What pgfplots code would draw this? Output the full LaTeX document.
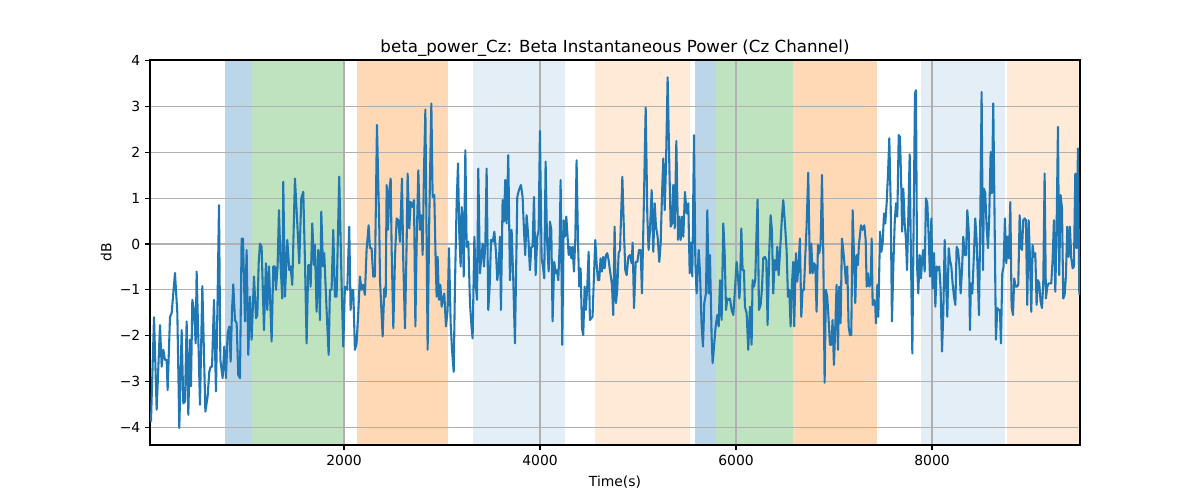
\documentclass[border=0pt]{standalone}
\usepackage{pgfplots}
\pgfplotsset{compat=1.18}
\usepackage{fontspec}
\setmainfont{DejaVu Sans}
\definecolor{tabblue}{RGB}{31,119,180}
\definecolor{taborange}{RGB}{255,127,14}
\definecolor{tabgreen}{RGB}{44,160,44}
\definecolor{gridgray}{RGB}{176,176,176}
\begin{document}
\begin{tikzpicture}
\begin{axis}[
  set layers,
  clip mode=individual,
  scale only axis,
  width=669.6pt, height=277.2pt,
  at={(0,0)}, anchor=south west,
  xmin=20, xmax=9510, ymin=-4.39, ymax=4.02,
  xtick={2000,4000,6000,8000},
  ytick={-4,-3,-2,-1,0,1,2,3,4},
  yticklabels={−4,−3,−2,−1,0,1,2,3,4},
  scaled x ticks=false,
  /pgf/number format/assume math mode=true,
  /pgf/number format/set thousands separator={},
  tick label style={font=\fontsize{10}{12}\selectfont, text=black},
  tick align=outside, major tick length=3.5pt,
  tick style={black, line width=0.8pt},
  xtick pos=bottom, ytick pos=left,
  grid=major,
  major grid style={gridgray, line width=0.8pt},
  axis line style={black, line width=0.8pt},
  title={beta\_power\_Cz: Beta Instantaneous Power (Cz Channel)},
  title style={font=\fontsize{12}{14}\selectfont, yshift=-7pt},
  xlabel={Time(s)}, ylabel={dB},
  label style={font=\fontsize{10}{12}\selectfont},
  xlabel style={yshift=-1pt},
  ylabel style={yshift=-1pt},
]
% spans
\addplot[on layer=axis background, draw=none, fill=tabblue, fill opacity=0.3] coordinates {(788,-4.39) (788,4.02) (1058,4.02) (1058,-4.39)};
\addplot[on layer=axis background, draw=none, fill=tabgreen, fill opacity=0.3] coordinates {(1058,-4.39) (1058,4.02) (2000,4.02) (2000,-4.39)};
\addplot[on layer=axis background, draw=none, fill=taborange, fill opacity=0.3] coordinates {(2132,-4.39) (2132,4.02) (3058,4.02) (3058,-4.39)};
\addplot[on layer=axis background, draw=none, fill=tabblue, fill opacity=0.12] coordinates {(3316,-4.39) (3316,4.02) (4255,4.02) (4255,-4.39)};
\addplot[on layer=axis background, draw=none, fill=taborange, fill opacity=0.16] coordinates {(4561,-4.39) (4561,4.02) (5530,4.02) (5530,-4.39)};
\addplot[on layer=axis background, draw=none, fill=tabblue, fill opacity=0.3] coordinates {(5584,-4.39) (5584,4.02) (5792,4.02) (5792,-4.39)};
\addplot[on layer=axis background, draw=none, fill=tabgreen, fill opacity=0.3] coordinates {(5792,-4.39) (5792,4.02) (6584,4.02) (6584,-4.39)};
\addplot[on layer=axis background, draw=none, fill=taborange, fill opacity=0.3] coordinates {(6584,-4.39) (6584,4.02) (7435,4.02) (7435,-4.39)};
\addplot[on layer=axis background, draw=none, fill=tabblue, fill opacity=0.12] coordinates {(7887,-4.39) (7887,4.02) (8748,4.02) (8748,-4.39)};
\addplot[on layer=axis background, draw=none, fill=taborange, fill opacity=0.16] coordinates {(8765,-4.39) (8765,4.02) (9510,4.02) (9510,-4.39)};
% signal
\addplot[tabblue, line width=1.5pt, line join=round] table {
x y
30 -3.88
61 -1.60
88 -3.62
122 -1.77
139 -2.68
156 -2.31
173 -2.53
190 -2.53
200 -3.19
224 -1.59
241 -1.51
275 -0.63
299 -1.51
319 -4.02
343 -1.88
360 -3.48
377 -3.44
394 -1.69
411 -3.73
428 -2.09
438 -3.11
452 -1.22
469 -1.44
486 -2.17
496 -0.60
530 -3.51
554 -0.92
585 -3.66
608 -3.33
625 -2.79
639 -2.68
653 -2.68
673 -1.22
693 -3.22
710 -1.15
724 0.85
738 -2.53
761 -2.93
778 -2.24
795 -2.93
812 -1.95
829 -1.80
843 -2.57
857 -1.44
870 -0.88
887 -1.66
904 -1.73
921 -2.86
938 -2.93
955 0.12
969 0.12
989 -1.69
1006 -0.13
1023 -2.42
1040 -1.15
1057 -2.09
1081 -0.71
1102 -1.62
1115 -1.55
1129 -0.42
1142 0.01
1159 -0.06
1183 -1.88
1203 -0.42
1217 -1.44
1234 -0.49
1261 -2.13
1278 -0.49
1295 -0.49
1305 -1.00
1322 -0.49
1336 0.74
1353 -0.49
1370 -1.19
1380 1.36
1397 -1.15
1421 0.09
1441 -0.57
1455 -0.49
1472 -0.89
1499 1.43
1523 0.45
1543 -0.42
1564 1.00
1584 1.14
1601 -0.35
1618 -2.17
1635 -0.46
1652 -0.46
1659 -0.93
1676 0.45
1693 -0.46
1703 -0.02
1720 -1.48
1737 -0.13
1754 -1.66
1768 0.71
1785 -0.49
1798 -0.20
1822 -1.44
1843 -2.42
1856 -1.00
1873 -1.00
1890 0.31
1907 -1.15
1924 -1.15
1951 1.47
1975 -0.86
1992 -2.24
2009 -0.93
2033 -1.00
2053 0.38
2067 -1.44
2081 -1.00
2094 -1.00
2111 -2.31
2128 -2.17
2145 -1.51
2162 -0.71
2179 -1.00
2196 -0.89
2213 -1.11
2230 -0.13
2251 0.41
2264 -0.09
2281 -0.09
2298 -0.71
2315 -0.71
2336 2.60
2360 0.31
2367 -0.79
2394 -2.02
2411 -0.97
2425 -1.15
2435 1.29
2449 0.31
2462 1.18
2476 1.43
2486 -0.13
2503 -1.84
2520 -0.28
2537 0.56
2554 0.52
2571 0.05
2591 1.43
2605 -0.42
2622 -1.84
2639 0.05
2649 1.54
2666 0.34
2680 0.92
2697 0.81
2714 0.96
2728 -1.80
2741 0.01
2758 1.61
2775 0.31
2789 0.63
2802 -0.24
2816 1.61
2830 2.94
2843 -0.02
2853 -2.31
2870 0.60
2891 3.07
2904 1.03
2921 1.07
2935 -0.39
2945 -1.15
2955 -0.28
2969 -1.22
2983 -0.89
2996 -1.37
3010 -1.19
3023 -1.08
3040 -1.80
3057 -1.44
3071 -0.09
3088 -1.73
3102 -2.31
3119 -2.79
3132 -0.89
3149 0.89
3163 1.76
3176 0.23
3190 -0.49
3200 0.81
3210 0.60
3221 -0.71
3238 2.05
3251 -0.06
3268 0.05
3285 -1.29
3302 -1.84
3312 -2.06
3330 0.16
3343 -0.86
3357 -1.22
3370 1.65
3387 -0.64
3401 -0.28
3415 0.01
3428 -0.49
3442 0.01
3455 1.65
3472 -1.44
3486 -0.93
3500 0.09
3517 0.05
3534 0.27
3551 -0.20
3564 -0.79
3578 -0.49
3591 0.16
3601 -1.44
3618 0.96
3632 0.49
3645 1.40
3659 0.45
3676 1.94
3693 -0.79
3710 0.31
3727 -0.79
3744 -2.17
3768 1.03
3785 1.18
3805 1.29
3822 1.03
3836 0.31
3849 -0.24
3863 0.63
3880 0.16
3897 -0.57
3911 -0.06
3924 -0.06
3938 1.03
3955 -0.68
3972 0.16
3986 0.31
3999 2.47
4016 -0.31
4030 -0.49
4043 -0.75
4057 1.80
4071 0.09
4088 -0.60
4101 0.49
4115 0.31
4128 -1.69
4145 -0.39
4159 -0.64
4173 -0.57
4186 -0.79
4200 -0.06
4210 1.40
4227 -2.20
4241 0.52
4254 0.16
4268 0.60
4278 0.27
4292 -0.24
4305 -0.06
4319 -0.31
4332 -0.06
4346 -0.60
4360 0.12
4373 1.83
4387 0.09
4400 -0.93
4414 -0.53
4428 -1.84
4441 -1.99
4455 -0.93
4468 -1.44
4482 -0.93
4496 -0.17
4509 -1.66
4523 -1.62
4536 -1.59
4550 -0.71
4564 0.09
4577 -0.42
4591 -0.79
4604 -0.79
4618 -0.31
4632 -0.60
4645 -0.28
4659 -0.53
4673 -0.24
4686 -0.20
4700 -0.35
4713 -0.57
4734 -0.89
4747 -1.55
4761 0.38
4775 -1.29
4788 -1.00
4802 -0.20
4816 -0.13
4840 1.47
4857 0.23
4870 -0.57
4884 -0.68
4901 -0.28
4918 -0.24
4935 -0.42
4945 0.03
4959 -1.40
4976 -0.39
4993 -0.39
5010 -0.13
5027 -0.13
5040 -1.08
5061 1.03
5078 2.98
5095 0.60
5108 -0.13
5122 0.31
5139 1.18
5156 -0.17
5170 0.89
5183 0.38
5200 0.16
5217 -0.39
5231 0.01
5245 1.11
5258 1.87
5272 0.74
5285 1.69
5302 3.64
5319 1.76
5333 0.38
5347 0.45
5360 1.29
5374 0.34
5391 2.25
5408 0.09
5421 0.60
5435 0.09
5449 0.60
5462 0.16
5479 1.14
5496 0.67
5513 0.89
5527 -0.64
5540 0.03
5554 -0.71
5571 2.38
5585 -0.42
5598 -1.08
5619 -0.13
5632 -0.60
5649 -1.80
5663 -2.24
5676 -1.29
5693 -1.08
5707 0.74
5721 -1.08
5734 -0.24
5751 -2.02
5761 -2.60
5778 -2.17
5792 -1.80
5809 -1.55
5823 -1.80
5836 -0.79
5853 -1.66
5870 0.45
5884 -0.20
5898 -1.44
5911 -1.19
5925 -1.22
5938 -1.19
5955 -1.44
5972 -1.55
5989 -1.00
6006 -0.39
6020 -0.71
6034 -1.19
6040 -1.00
6054 0.34
6067 -0.57
6081 -0.57
6091 -1.37
6108 -1.51
6125 -2.31
6142 -1.37
6159 -2.20
6169 -0.79
6183 -0.93
6196 -0.79
6210 0.31
6220 0.97
6234 -1.44
6251 -1.33
6264 -1.00
6278 -0.31
6295 -0.28
6309 -0.35
6322 -1.77
6339 -0.17
6353 0.63
6366 0.31
6380 -1.08
6394 -0.35
6407 -0.57
6421 -0.06
6435 -0.68
6448 -0.20
6469 0.60
6482 0.96
6499 0.45
6516 -0.13
6530 -1.15
6543 -1.00
6557 -1.80
6571 -0.86
6584 -0.39
6594 -1.80
6611 -0.20
6625 -0.82
6639 -0.42
6652 0.12
6666 -1.59
6679 -1.00
6693 -1.00
6707 -0.24
6720 0.38
6737 1.56
6754 -0.64
6768 0.01
6781 -0.64
6795 -0.42
6809 -0.46
6822 -1.48
6836 -0.02
6849 -0.20
6863 -0.02
6877 1.51
6890 -0.13
6904 -3.03
6917 -1.00
6931 -1.15
6945 -1.66
6958 -2.20
6972 -2.20
6985 -1.66
6999 -2.64
7013 -1.80
7026 -0.89
7040 -2.31
7053 -0.93
7067 -1.73
7081 0.12
7094 -0.13
7108 -0.46
7122 -0.86
7135 -0.49
7149 -1.80
7162 -1.99
7176 -1.99
7190 0.74
7203 -0.20
7217 -1.29
7230 -0.24
7244 -0.46
7254 -0.02
7275 0.41
7292 0.31
7309 0.41
7323 0.09
7333 -0.93
7347 -0.64
7360 -0.93
7374 -0.86
7384 0.12
7394 -1.33
7408 -1.22
7421 -1.37
7428 -1.73
7442 -0.89
7452 -1.59
7469 0.27
7483 -0.17
7496 0.01
7510 0.67
7523 0.45
7537 0.89
7551 1.54
7564 2.31
7578 0.89
7591 -1.69
7605 -0.49
7619 0.45
7632 0.89
7646 0.60
7660 2.38
7673 2.34
7687 1.18
7694 0.27
7707 1.21
7721 0.45
7734 0.09
7745 -0.57
7758 0.60
7772 1.96
7782 0.16
7799 -2.39
7813 0.60
7826 3.29
7836 3.36
7847 -0.46
7860 -1.08
7874 -0.24
7887 -0.75
7901 -0.28
7911 -0.13
7925 -0.60
7938 1.00
7952 0.89
7966 0.16
7979 -0.71
7993 0.56
8006 -0.97
8020 -0.20
8034 -1.37
8047 -0.49
8061 -0.57
8074 -0.49
8088 -1.00
8102 -2.35
8115 -1.51
8129 0.09
8142 -0.79
8156 -1.59
8170 -0.09
8183 -0.35
8197 -0.49
8210 -0.86
8224 -1.15
8238 -1.33
8251 -0.06
8265 -0.13
8278 -0.42
8292 -1.08
8306 -0.57
8319 0.16
8333 -0.24
8347 -0.24
8360 0.74
8374 0.31
8387 -1.88
8397 -0.86
8411 -1.08
8428 -0.20
8441 0.56
8455 0.09
8469 -0.86
8479 -1.55
8492 0.45
8506 3.32
8520 -0.57
8530 1.21
8543 1.11
8557 0.38
8571 -0.09
8584 0.60
8598 2.01
8611 1.11
8625 3.07
8635 1.18
8652 -2.09
8666 -1.40
8679 -1.44
8693 -1.44
8703 -2.17
8717 -0.64
8730 -0.49
8744 0.56
8758 -0.42
8771 0.16
8785 -0.31
8799 0.92
8812 -1.37
8826 -1.55
8839 -0.75
8853 -0.93
8867 -0.93
8880 -0.89
8894 0.63
8907 -0.06
8918 -0.13
8931 0.52
8945 0.56
8958 0.52
8972 -1.33
8986 0.52
8999 -0.28
9013 -1.48
9026 -0.02
9040 -0.28
9054 -0.20
9067 -1.33
9081 -0.79
9094 -0.86
9108 -1.26
9122 -1.40
9135 -0.86
9149 1.54
9162 -1.19
9176 -0.93
9190 -0.86
9203 -0.86
9217 -0.86
9230 -0.35
9244 0.52
9258 -1.04
9271 0.31
9285 2.56
9298 -0.68
9312 1.07
9326 0.78
9339 -1.19
9353 -1.11
9366 -0.71
9380 0.38
9394 -0.28
9407 0.38
9421 -0.31
9435 -0.53
9448 -0.49
9462 1.54
9475 -0.09
9489 2.09
9503 -1.11
};
\end{axis}
\pgfresetboundingbox
\path (-108pt,-39.6pt) rectangle (756pt,320.4pt);
\end{tikzpicture}
\end{document}
